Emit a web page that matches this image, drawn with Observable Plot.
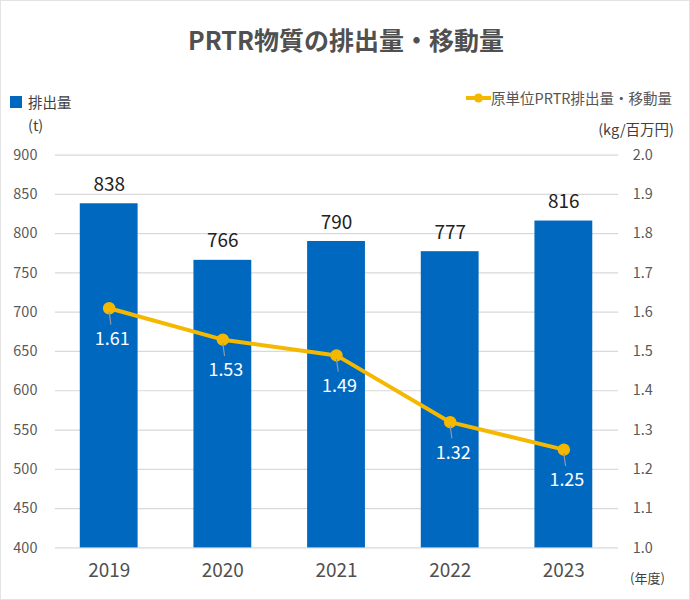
<!DOCTYPE html>
<html><head><meta charset="utf-8">
<script src="https://cdn.jsdelivr.net/npm/d3@7"></script>
<script src="https://cdn.jsdelivr.net/npm/@observablehq/plot@0.6"></script>
<style>
body{margin:0;background:#fff;font-family:"Noto Sans CJK JP","Noto Sans",sans-serif;}
#wrap{position:relative;width:690px;height:600px;box-sizing:border-box;border:1px solid #e3e3e3;overflow:hidden;}
#wrap svg{position:absolute;left:-1px;top:-1px;}
.t{position:absolute;white-space:nowrap;color:#404040;}
</style></head><body>
<div id="wrap">
  <div class="t" style="left:0;width:690px;text-align:center;top:20px;font-size:25px;font-weight:bold;color:#505050;line-height:36px;">PRTR物質の排出量・移動量</div>
  <div class="t" style="left:9px;top:95px;width:12px;height:12px;background:#0068bf;"></div>
  <div class="t" style="left:27px;top:91px;font-size:14.5px;line-height:20px;">排出量</div>
  <div class="t" style="left:27px;top:114px;font-size:14.5px;line-height:20px;">(t)</div>
  <svg class="t" style="left:464px;top:89px;" width="28" height="16"><line x1="1" y1="8" x2="26" y2="8" stroke="#f5b800" stroke-width="4"/><circle cx="13.5" cy="8" r="4.5" fill="#f5b800"/></svg>
  <div class="t" style="left:490px;top:87px;font-size:14.5px;line-height:20px;color:#555;">原単位PRTR排出量・移動量</div>
  <div class="t" style="right:15px;top:118px;font-size:14.5px;line-height:20px;">(kg/百万円)</div>
  <div class="t" style="left:629px;top:567px;font-size:13px;line-height:20px;">(年度)</div>
</div>
<script>
const years = ["2019","2020","2021","2022","2023"];
const emissions = [838, 766, 790, 777, 816];
const intensity = [1.61, 1.53, 1.49, 1.32, 1.25];
const leftTicks = [400,450,500,550,600,650,700,750,800,850,900];

// map right axis (1.0–2.0) onto left axis (400–900)
const toLeft = v => 400 + (v - 1.0) * 500;
const toRight = d => ((d - 400) / 500 + 1).toFixed(1);

const bars = years.map((y,i)=>({year:y, value:emissions[i]}));
const line = years.map((y,i)=>({year:y, value:intensity[i], y: toLeft(intensity[i])}));

const leader = {draw(context, l) { context.moveTo(0, 0); context.lineTo(0, -l); }};

const chart = Plot.plot({
  width: 690, height: 600,
  marginTop: 155, marginBottom: 51, marginLeft: 55, marginRight: 70,
  style: {fontFamily: '"Noto Sans CJK JP","Noto Sans",sans-serif', background: "transparent", overflow: "visible"},
  x: {domain: years, paddingInner: 0.49, paddingOuter: 0.22, label: null},
  y: {domain: [400, 900], label: null},
  marks: [
    Plot.gridY(leftTicks, {stroke: "#d9d9d9", strokeOpacity: 1, strokeWidth: 1.2}),
    Plot.axisY(leftTicks, {anchor: "left", tickSize: 0, tickPadding: 18, fontSize: 14.5, fill: "#595959", label: null}),
    Plot.axisY(leftTicks, {anchor: "right", tickSize: 0, tickPadding: 14, fontSize: 14.5, fill: "#595959", tickFormat: toRight, label: null}),
    Plot.axisX({tickSize: 0, tickPadding: 16, fontSize: 19, fill: "#505050", label: null}),
    Plot.barY(bars, {x: "year", y1: 400, y2: "value", fill: "#0068bf"}),
    Plot.text(bars, {x: "year", y: "value", text: d => String(d.value), dy: -19, fontSize: 19, fill: "#222"}),
    Plot.line(line, {x: "year", y: "y", stroke: "#f5b800", strokeWidth: 4, curve: "linear"}),
    Plot.dot(line, {x: "year", y: "y", r: 5.5, fill: "#f5b800", stroke: "#f5b800"}),
    Plot.vector(line, {x: "year", y: "y", length: 12, rotate: 172, anchor: "start", dy: 4, shape: leader, stroke: "#8e9aa8", strokeWidth: 1.2}),
    Plot.text(line, {x: "year", y: "y", text: d => d.value.toFixed(2), dy: 31, dx: 3, fontSize: 18, fill: "#fff"})
  ]
});
document.getElementById("wrap").prepend(chart);
</script>
</body></html>
